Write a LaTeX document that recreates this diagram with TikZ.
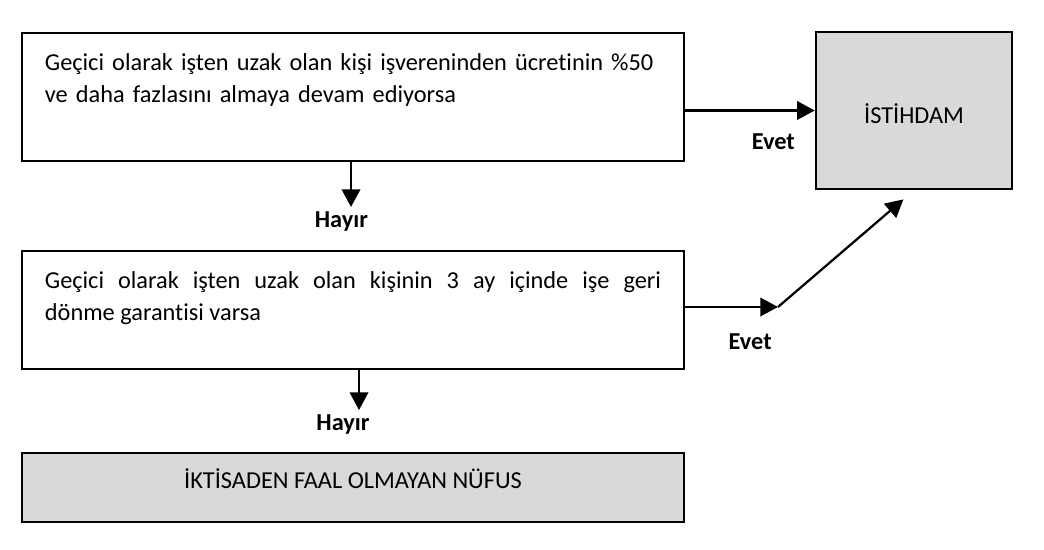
\documentclass[tikz,border=0pt]{standalone}
\usepackage{fontspec}
\setmainfont{Carlito}[Ligatures=NoCommon]
\usetikzlibrary{arrows.meta,positioning,calc}
\definecolor{resultgray}{RGB}{217,217,217}

\begin{document}
\begin{tikzpicture}[
    x=0.025cm, y=-0.025cm,
    font=\fontsize{17.3}{22.8}\selectfont,
    box/.style={rectangle, draw, line width=1.8pt, minimum width=16.55cm, inner xsep=0.575cm, inner ysep=0pt},
    cond/.style={box, text width=15.4cm},
    result/.style={box, fill=resultgray},
    arrow/.style={->, >={Triangle[length=0.44cm, width=0.46cm]}, line width=1.6pt},
    answer/.style={font=\fontsize{17.3}{19}\selectfont\bfseries, inner sep=0pt}
]

\useasboundingbox (0,0) rectangle (1044,550);

% Questions
\node[cond, align=left, minimum height=3.2cm] (q1) at (353,97) {
    Geçici olarak işten uzak olan kişi işvereninden ücretinin \%50\\
    ve daha fazlasını almaya devam ediyorsa\\[0.15cm]
    \mbox{}
};

\node[cond, align=justify, minimum height=2.95cm] (q2) at (353,310) {
    Geçici olarak işten uzak olan kişinin 3 ay içinde işe geri\linebreak
    dönme garantisi varsa\\[-0.1cm]
    \mbox{}
};

% Results
\node[result, minimum width=4.9cm, minimum height=3.925cm, text height=0.65cm, text depth=0cm] (ist) at (914,110.5) {İSTİHDAM};
\node[result, minimum height=1.725cm, text depth=0.45cm] (inactive) at (353,487.5) {İKTİSADEN FAAL OLMAYAN NÜFUS};

% Turning points
\coordinate (turn) at (778,307);
\coordinate (no1) at (351,207);
\coordinate (no2) at (359,410);

% Arrows
\draw[arrow] (q1.east |- ist.west) -- (ist.west)
    node[answer, pos=0.68, below=0.54cm] {Evet};
\draw[arrow] (q2.east |- turn) -- (turn)
    node[answer, pos=0.70, below=0.65cm] {Evet};
\draw[arrow, shorten >=0.35cm] (turn) -- (ist.south);

\draw[arrow] (q1.south -| no1) -- (no1)
    node[answer, below=0.08cm, xshift=-0.24cm] {Hayır};
\draw[arrow] (q2.south -| no2) -- (no2)
    node[answer, below=0.08cm, xshift=-0.4cm] {Hayır};

\end{tikzpicture}
\end{document}
